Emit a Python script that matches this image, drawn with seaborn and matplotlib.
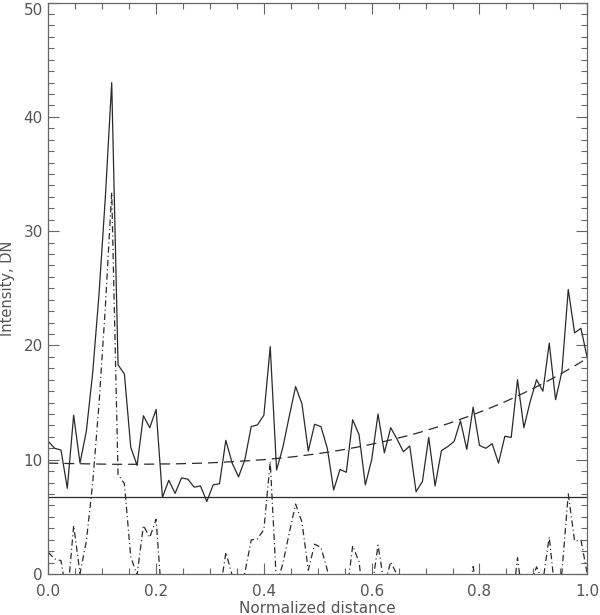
import numpy as np
import pandas as pd
import matplotlib
matplotlib.use('Agg')
import matplotlib.pyplot as plt
from matplotlib.ticker import MultipleLocator
import seaborn as sns

# intensity along the loop (86 samples)
intensity = [11.6, 11.0, 10.85, 7.5, 13.9, 9.7, 12.5, 17.6, 24.5, 33.0,
             43.0, 18.3, 17.5, 11.1, 9.5, 13.85, 12.8, 14.4, 6.7, 8.2,
             7.05, 8.4, 8.3, 7.6, 7.7, 6.35, 7.8, 7.9, 11.7, 9.7,
             8.5, 10.0, 12.9, 13.05, 13.9, 19.9, 9.1, 11.1, 13.8, 16.4,
             14.9, 10.75, 13.1, 12.9, 11.0, 7.35, 9.15, 8.9, 13.5, 12.2,
             7.8, 10.0, 14.0, 10.6, 12.8, 11.8, 10.7, 11.2, 7.2, 8.1,
             11.95, 7.7, 10.8, 11.15, 11.6, 13.4, 10.9, 14.6, 11.25, 11.0,
             11.4, 9.7, 12.05, 11.95, 17.0, 12.8, 15.1, 17.0, 16.0, 20.2,
             15.25, 17.7, 24.9, 21.1, 21.5, 18.9]

# smooth background fit (dashed)
background = [9.70, 9.69, 9.68, 9.67, 9.66, 9.65, 9.64, 9.63, 9.62, 9.61,
              9.60, 9.60, 9.60, 9.60, 9.60, 9.61, 9.61, 9.62, 9.63, 9.63,
              9.64, 9.65, 9.67, 9.68, 9.70, 9.72, 9.74, 9.77, 9.80, 9.83,
              9.86, 9.89, 9.93, 9.97, 10.01, 10.06, 10.11, 10.16, 10.22, 10.28,
              10.35, 10.42, 10.49, 10.57, 10.65, 10.74, 10.83, 10.93, 11.03, 11.13,
              11.24, 11.36, 11.48, 11.60, 11.73, 11.87, 12.01, 12.15, 12.30, 12.46,
              12.63, 12.80, 12.97, 13.15, 13.34, 13.54, 13.74, 13.95, 14.16, 14.38,
              14.60, 14.83, 15.07, 15.32, 15.58, 15.84, 16.11, 16.38, 16.66, 16.96,
              17.26, 17.57, 17.89, 18.21, 18.54, 18.88]

noiseLevel = 6.7

distance = np.linspace(0, 1, len(intensity))
dfProfile = pd.DataFrame({'x': distance, 'I': intensity, 'bg': background})
dfProfile['resid'] = dfProfile['I'] - dfProfile['bg']

sns.set_style('ticks')
plt.rcParams['font.family'] = ['DejaVu Sans']
plt.rcParams['lines.scale_dashes'] = False

textColor = '#555555'
lineColor = '#2a2a2a'

fig = plt.figure(figsize=(6, 6.15), dpi=100)
ax = fig.add_axes([0.0805, 0.0667, 0.8983, 0.929])

sns.lineplot(x='x', y='I', data=dfProfile, ax=ax, color=lineColor, lw=0.9)
sns.lineplot(x='x', y='bg', data=dfProfile, ax=ax, color=lineColor, lw=0.9,
             linestyle=(0, (7.2, 4.3)))
sns.lineplot(x='x', y='resid', data=dfProfile, ax=ax, color=lineColor, lw=0.9,
             linestyle=(0, (4.5, 2.2, 0.8, 2.2)))
ax.axhline(noiseLevel, color=lineColor, lw=0.9)

ax.set_xlim(0, 1)
ax.set_ylim(0, 50)
ax.xaxis.set_major_locator(MultipleLocator(0.2))
ax.xaxis.set_minor_locator(MultipleLocator(0.05))
ax.yaxis.set_major_locator(MultipleLocator(10))
ax.yaxis.set_minor_locator(MultipleLocator(1))
ax.set_xticklabels([f'{v:.1f}' for v in ax.get_xticks()])
ax.set_yticks([0, 10, 20, 30, 40, 50])
ax.set_yticklabels(['0', '10', '20', '30', '40', '50'])
# top label sits just inside the figure, as in the original
ax.get_yticklabels()[-1].set_verticalalignment('top')

for side in ax.spines.values():
    side.set_color('#666666')
    side.set_linewidth(0.9)
ax.tick_params(which='both', direction='in', top=True, right=True,
               color='#666666', width=0.8, labelcolor=textColor, labelsize=11)
ax.tick_params(which='major', length=8)
ax.tick_params(which='minor', length=4)
ax.tick_params(axis='x', which='major', pad=7)
ax.tick_params(axis='y', which='major', pad=4)

ax.set_xlabel('Normalized distance', color=textColor, fontsize=11, labelpad=2)
ax.set_ylabel('Intensity, DN', color=textColor, fontsize=10.5)
ax.yaxis.set_label_coords(-0.061, 0.5)

fig.savefig('out.png', dpi=100)
